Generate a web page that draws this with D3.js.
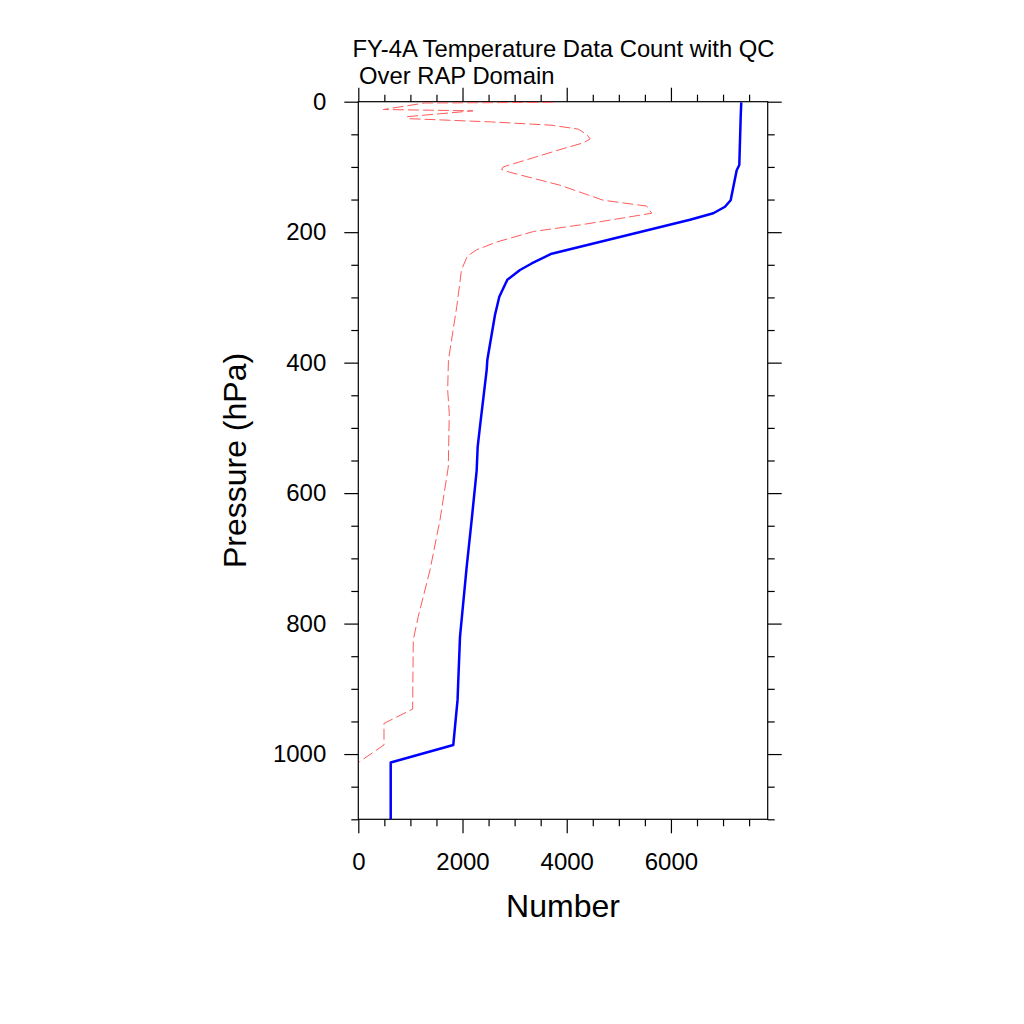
<!DOCTYPE html>
<html>
<head>
    <title>FY-4A Temperature Data Count</title>
    <script type="text/javascript" src="https://d3js.org/d3.v7.min.js"></script>
    <style>
	body {
		margin: 0;
		background: #fff;
	}
	text {
		font-family: "Liberation Sans", Arial, Helvetica, sans-serif;
		fill: #000;
	}
	.axis path { display: none; }
	.axis line { stroke: #000; stroke-width: 1.2; }
	.axis text { font-size: 24px; }
	.title { font-size: 23.8px; white-space: pre; }
	.label { font-size: 32px; }
    </style>
</head>
<body>
<script>

	// ------------------------------ data --------------------------------
	// blue (solid) line : count with QC
	var qcPressure = [1, 20, 97, 105, 151, 161, 171, 181, 233, 248, 258, 273, 299, 327, 396, 411, 498, 529, 565, 641, 713, 820, 887, 917, 986, 1013, 1100];
	var qcCount    = [7350, 7340, 7312, 7262, 7146, 7037, 6813, 6366, 3711, 3327, 3103, 2860, 2706, 2623, 2476, 2464, 2335, 2291, 2272, 2176, 2080, 1952, 1919, 1905, 1823, 622, 622];

	// red (dashed) line
	var redPressure = [1, 2, 12, 14, 23, 26, 31, 36, 42, 50, 57, 63, 72, 100, 104, 108, 128, 151, 160, 171, 184, 189, 199, 215, 227, 237, 258, 314, 396, 442, 478, 560, 641, 718, 789, 825, 917, 931, 953, 986, 1012];
	var redCount    = [3740, 1270, 480, 2200, 930, 970, 2560, 3700, 4220, 4380, 4450, 4320, 3930, 2780, 2750, 2900, 3870, 4700, 5530, 5630, 4640, 4250, 3360, 2660, 2270, 2090, 1980, 1890, 1730, 1715, 1746, 1727, 1568, 1376, 1151, 1055, 1044, 1044, 493, 493, 19];

	var xMajorTicks = [0, 2000, 4000, 6000];
	var yMajorTicks = [0, 200, 400, 600, 800, 1000];
	var titleLines = ["FY-4A Temperature Data Count with QC", " Over RAP Domain"];
	var xTitle = "Number";
	var yTitle = "Pressure (hPa)";

	// ------------------------------ layout -------------------------------
	// (window.top is read-only, so the plot edges get their own names)
	var plotL = 358.3, plotR = 767.7, plotT = 101.7, plotB = 819.3;
	var xScale = d3.scaleLinear().domain([0, 7857]).range([plotL, plotR]);
	var yScale = d3.scaleLinear().domain([0, 1100]).range([plotT, plotB]);

	var xMinor = d3.range(0, 7857, 500).filter(function (v){ return v % 2000 != 0 });
	var yMinor = d3.range(0, 1101, 50).filter(function (v){ return v % 200 != 0 });

	var svg = d3.select("body").append("svg")
		.attr("width", 1024)
		.attr("height", 1024);

	svg.append("rect").attr("width", 1024).attr("height", 1024).attr("fill", "#fff");

	// minor ticks first, then major ticks with labels
	function addAxis(axis, transform){
		svg.append("g").attr("class", "axis").attr("transform", transform).call(axis);
	}
	addAxis(d3.axisBottom(xScale).tickValues(xMinor).tickSize(7).tickFormat(""), "translate(0," + plotB + ")");
	addAxis(d3.axisBottom(xScale).tickValues(xMajorTicks).tickSize(14).tickPadding(20).tickFormat(d3.format("d")), "translate(0," + plotB + ")");
	addAxis(d3.axisTop(xScale).tickValues(xMinor).tickSize(7).tickFormat(""), "translate(0," + plotT + ")");
	addAxis(d3.axisTop(xScale).tickValues(xMajorTicks).tickSize(14).tickFormat(""), "translate(0," + plotT + ")");
	addAxis(d3.axisLeft(yScale).tickValues(yMinor).tickSize(7).tickFormat(""), "translate(" + plotL + ",0)");
	addAxis(d3.axisLeft(yScale).tickValues(yMajorTicks).tickSize(14).tickPadding(18).tickFormat(d3.format("d")), "translate(" + plotL + ",0)");
	addAxis(d3.axisRight(yScale).tickValues(yMinor).tickSize(7).tickFormat(""), "translate(" + plotR + ",0)");
	addAxis(d3.axisRight(yScale).tickValues(yMajorTicks).tickSize(14).tickFormat(""), "translate(" + plotR + ",0)");

	// frame
	svg.append("rect")
		.attr("x", plotL).attr("y", plotT)
		.attr("width", plotR - plotL).attr("height", plotB - plotT)
		.attr("fill", "none").attr("stroke", "#000").attr("stroke-width", 1.2);

	// lines
	var line = d3.line()
		.x(function (d){ return xScale(d[0]) })
		.y(function (d){ return yScale(d[1]) });

	svg.append("path")
		.datum(d3.zip(redCount, redPressure))
		.attr("d", line)
		.attr("fill", "none")
		.attr("stroke", "#ff5a5a")
		.attr("stroke-width", 1)
		.attr("stroke-dasharray", "11,4");

	svg.append("path")
		.datum(d3.zip(qcCount, qcPressure))
		.attr("d", line)
		.attr("fill", "none")
		.attr("stroke", "#0000ff")
		.attr("stroke-width", 2.5)
		.attr("stroke-linejoin", "round");

	// titles
	svg.selectAll("text.title").data(titleLines).enter().append("text")
		.attr("class", "title")
		.attr("x", 352.5)
		.attr("y", function (d, i){ return 57 + i * 27 })
		.text(function (d){ return d });

	svg.append("text").attr("class", "label")
		.attr("x", (plotL + plotR) / 2).attr("y", 917)
		.attr("text-anchor", "middle")
		.text(xTitle);

	svg.append("text").attr("class", "label")
		.attr("transform", "translate(246," + (plotT + plotB) / 2 + ") rotate(-90)")
		.attr("text-anchor", "middle")
		.text(yTitle);

</script>
</body>
</html>
